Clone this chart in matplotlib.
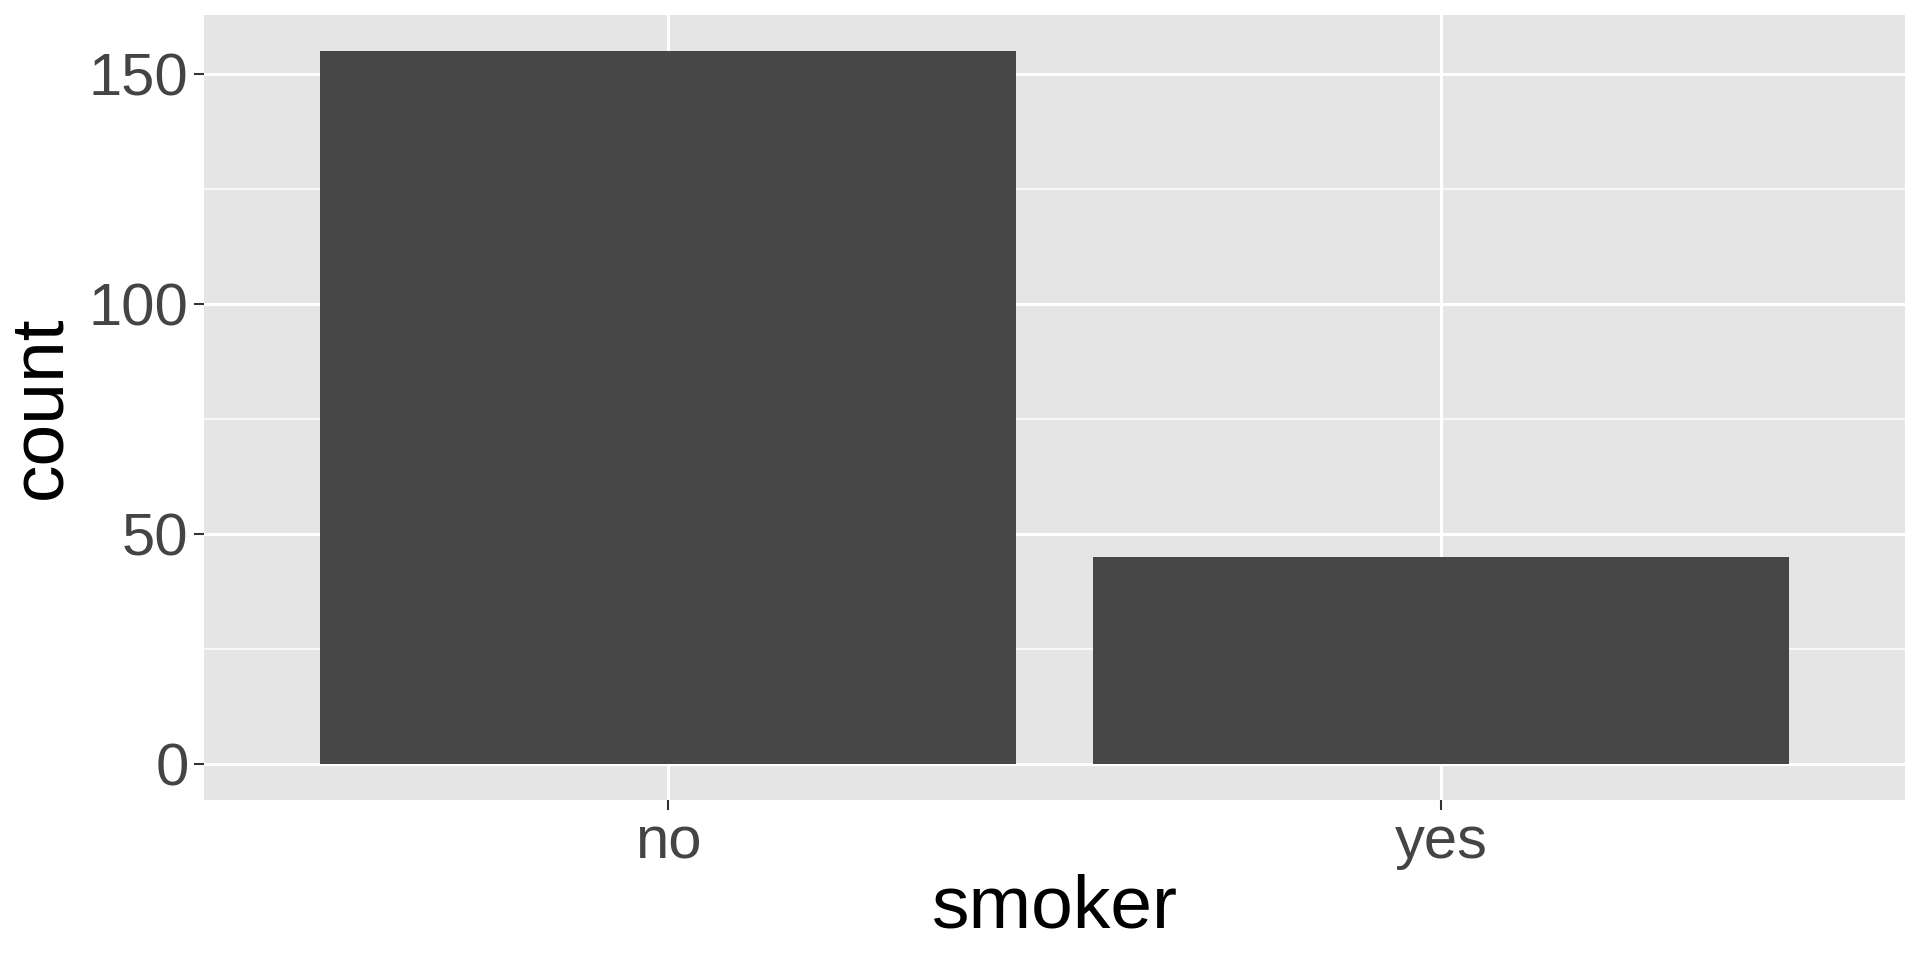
#!/usr/bin/env python
import numpy as np
import matplotlib
matplotlib.use('Agg')
import matplotlib.pyplot as plt

# data
categories = ['no', 'yes']
counts = [155, 45]
y_ticks = [0, 50, 100, 150]
y_minor = [25, 75, 125]

plt.rcParams['font.family'] = ['Liberation Sans', 'DejaVu Sans']

fig = plt.figure(figsize=(19.2, 9.6), dpi=100)
# panel placement in figure fractions (left, bottom, width, height)
ax = fig.add_axes([204 / 1920, 1 - 800 / 960, 1701 / 1920, 785 / 960])
ax.set_facecolor('#E5E5E5')

x = np.arange(1, len(categories) + 1)
ax.bar(x, counts, width=0.9, color='#474747', zorder=3)

# ggplot-style expansion
ymax = max(counts)
ax.set_ylim(-0.05 * ymax, 1.05 * ymax)
ax.set_xlim(0.4, len(categories) + 0.6)

ax.set_xticks(x)
ax.set_xticklabels(categories)
ax.set_yticks(y_ticks)
ax.set_yticks(y_minor, minor=True)

ax.grid(which='major', color='white', linewidth=2.2, zorder=1)
ax.grid(which='minor', axis='y', color='white', linewidth=1.1, zorder=1)
ax.set_axisbelow(True)

for s in ax.spines.values():
    s.set_visible(False)

ax.tick_params(which='major', length=7, width=1.5, color='#333333',
               labelsize=43, labelcolor='#444444', pad=4)
ax.tick_params(which='minor', length=0)

ax.set_xlabel('smoker', fontsize=54, color='black', labelpad=2)
ax.set_ylabel('count', fontsize=54, color='black', labelpad=10)

fig.savefig('out.png', dpi=100)
